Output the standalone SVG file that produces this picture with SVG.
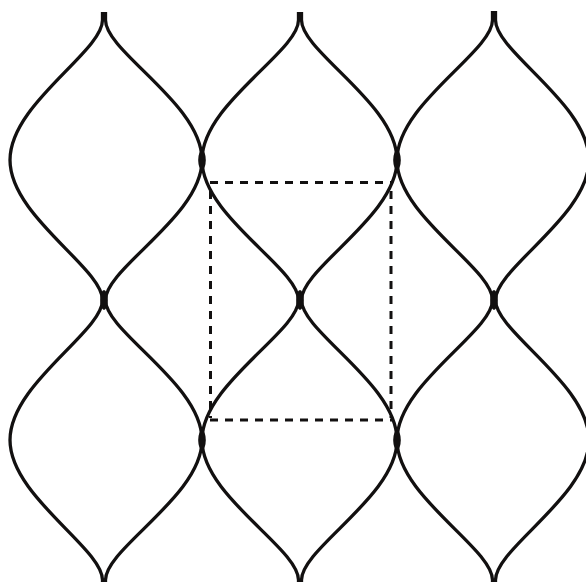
<svg xmlns="http://www.w3.org/2000/svg" width="586" height="582" viewBox="0 0 586 582">
  <style>
    .wave { fill: none; stroke: #121010; stroke-width: 3.3; stroke-linecap: butt; }
    .knot { fill: #121010; }
    .dash { fill: none; stroke: #121010; stroke-width: 3; stroke-dasharray: 8 7; }
  </style>
  <rect width="586" height="582" fill="#ffffff"/>
  <g id="waves">
    <path id="w1" class="wave" d="M102.5,12 L102.5,20 C102.5,52 10,104 10,160 C10,216 102.5,268 102.5,300 C102.5,332 10,384 10,440 C10,496 102.5,548 102.5,580 L102.5,590"/>
    <path id="w2" class="wave" d="M105.5,12 L105.5,20 C105.5,52 202,104 202,160 C202,216 105.5,268 105.5,300 C105.5,332 202,384 202,440 C202,496 105.5,548 105.5,580 L105.5,590"/>
    <path id="w3" class="wave" d="M298.5,12 L298.5,20 C298.5,52 202,104 202,160 C202,216 298.5,268 298.5,300 C298.5,332 202,384 202,440 C202,496 298.5,548 298.5,580 L298.5,590"/>
    <path id="w4" class="wave" d="M301.5,12 L301.5,20 C301.5,52 397,104 397,160 C397,216 301.5,268 301.5,300 C301.5,332 397,384 397,440 C397,496 301.5,548 301.5,580 L301.5,590"/>
    <path id="w5" class="wave" d="M492.5,11 L492.5,20 C492.5,52 397,104 397,160 C397,216 492.5,268 492.5,300 C492.5,332 397,384 397,440 C397,496 492.5,548 492.5,580 L492.5,590"/>
    <path id="w6" class="wave" d="M495.5,11 L495.5,20 C495.5,52 589,104 589,160 C589,216 495.5,268 495.5,300 C495.5,332 589,384 589,440 C589,496 495.5,548 495.5,580 L495.5,590"/>
  </g>
  <g id="knots">
    <ellipse class="knot" cx="202" cy="160" rx="3.8" ry="10"/>
    <ellipse class="knot" cx="397" cy="160" rx="3.8" ry="10"/>
    <ellipse class="knot" cx="104" cy="300" rx="3.8" ry="10"/>
    <ellipse class="knot" cx="300" cy="300" rx="3.8" ry="10"/>
    <ellipse class="knot" cx="494" cy="300" rx="3.8" ry="10"/>
    <ellipse class="knot" cx="202" cy="440" rx="3.8" ry="10"/>
    <ellipse class="knot" cx="397" cy="440" rx="3.8" ry="10"/>
  </g>
  <g id="unit-cell">
    <line class="dash" x1="210" y1="182.5" x2="392" y2="182.5"/>
    <line class="dash" x1="210" y1="420" x2="392" y2="420"/>
    <line class="dash" x1="210.5" y1="191" x2="210.5" y2="418"/>
    <line class="dash" x1="391" y1="191" x2="391" y2="418"/>
  </g>
</svg>
